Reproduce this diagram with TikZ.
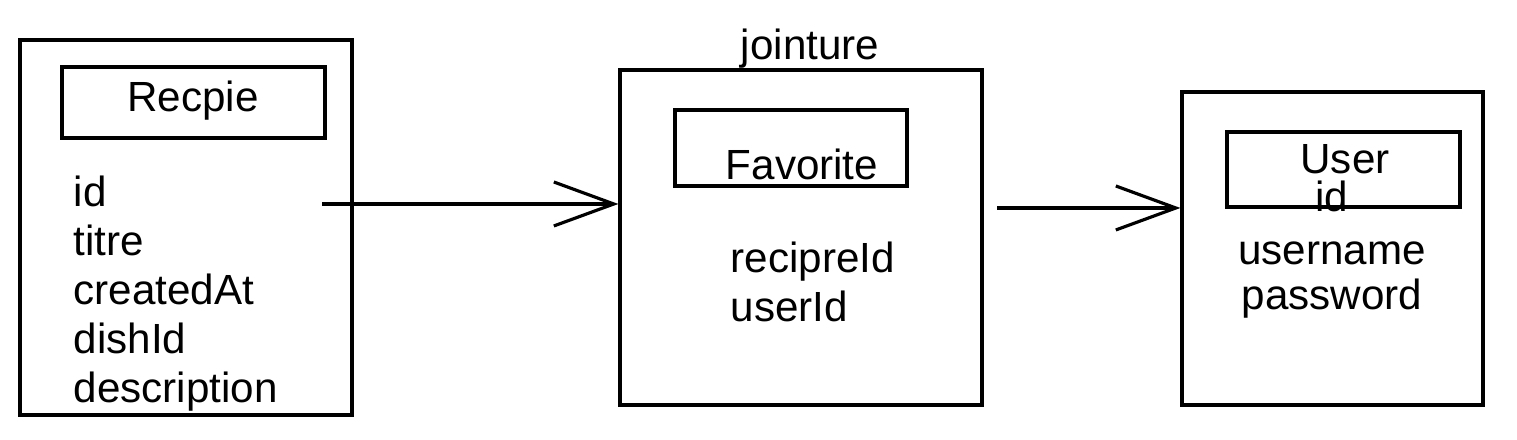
\documentclass[tikz,border=0pt]{standalone}
\usepackage{fontspec}
\setmainfont{Liberation Sans}
\usetikzlibrary{arrows.meta}

\begin{document}
\begin{tikzpicture}[
    table/.style={draw, line width=0.9pt, shape=rectangle, inner sep=0pt},
    head/.style={draw, line width=0.9pt, shape=rectangle, inner sep=0pt},
    field/.style={font=\fontsize{12}{14}\selectfont, inner sep=0pt},
    link/.style={line width=0.9pt, -{Straight Barb[length=6mm, width=4.4mm]}}
    ]
    \useasboundingbox (0,0) rectangle (15.17,4.40);

    % Recpie
    \node[table, minimum width=3.32cm, minimum height=3.75cm] (recipe) at (1.86,2.125) {};
    \node[head, minimum width=2.63cm, minimum height=0.71cm] (recipe-head) at (1.935,3.375) {};
    \node[field, anchor=base] (recipe-name) at (1.93,3.28) {Recpie};
    \foreach \f [count=\i] in {id,titre,createdAt,dishId,description}
      \node[field, anchor=base west] (recipe-\i) at (0.73,{2.33-0.49*(\i-1)}) {\f};

    % jointure
    \node[table, minimum width=3.62cm, minimum height=3.35cm] (favorite) at (8.01,2.025) {};
    \node[head, minimum width=2.32cm, minimum height=0.76cm] (favorite-head) at (7.91,2.92) {};
    \node[field, anchor=base] (favorite-name) at (8.02,2.60) {Favorite};
    \node[field, anchor=base] (jointure) at (8.10,3.80) {jointure};
    \foreach \f [count=\i] in {recipreId,userId}
      \node[field, anchor=base west] (favorite-\i) at (7.30,{1.67-0.49*(\i-1)}) {\f};

    % User
    \node[table, minimum width=3.01cm, minimum height=3.13cm] (user) at (13.325,1.915) {};
    \node[head, minimum width=2.33cm, minimum height=0.75cm] (user-head) at (13.435,2.705) {};
    \node[field, anchor=base] (user-name) at (13.45,2.66) {User};
    \foreach \f/\y [count=\i] in {id/2.28,username/1.75,password/1.30}
      \node[field, anchor=base] (user-\i) at (13.32,\y) {\f};

    % links
    \coordinate (recipe-out) at (3.22,2.36);
    \draw[link] (recipe-out) -- (recipe-out -| favorite.west);
    \coordinate (favorite-out) at (9.97,2.32);
    \draw[link] (favorite-out) -- (favorite-out -| user.west);
\end{tikzpicture}
\end{document}
